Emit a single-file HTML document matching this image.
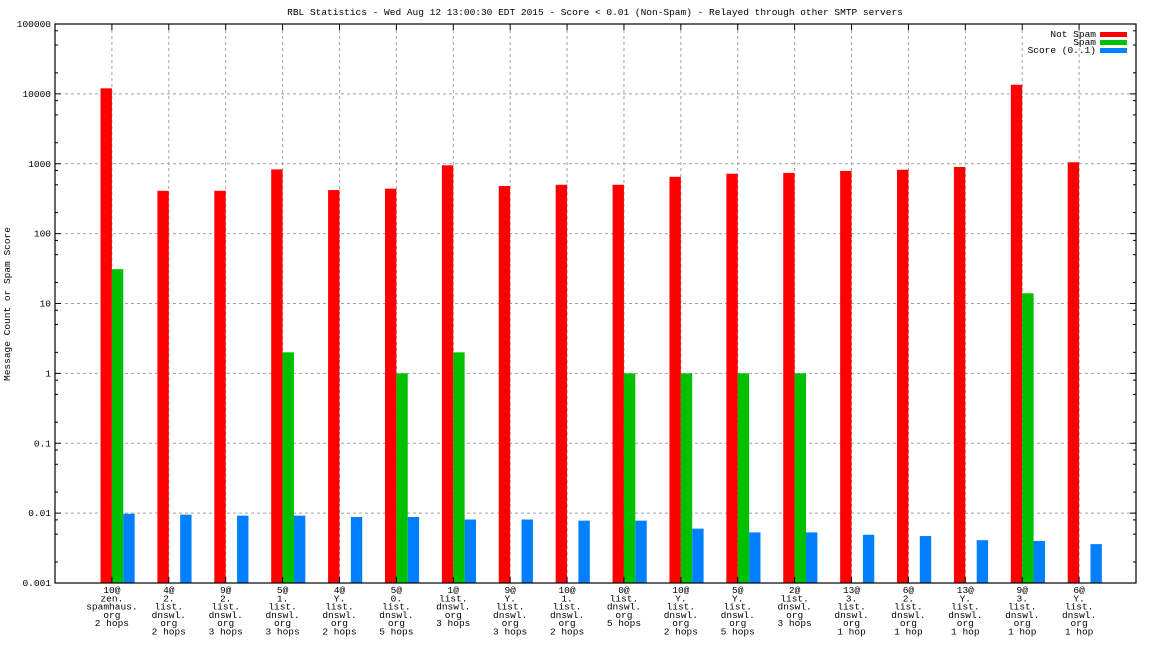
<!DOCTYPE html>
<html><head><meta charset="utf-8"><style>
body{margin:0;background:#fff}
svg text{font-family:"Liberation Mono",monospace;font-size:9.5px;fill:#000}
</style></head><body>
<svg id="c" width="1152" height="648" xmlns="http://www.w3.org/2000/svg">
<text x="595" y="15" text-anchor="middle">RBL Statistics - Wed Aug 12 13:00:30 EDT 2015 - Score &lt; 0.01 (Non-Spam) - Relayed through other SMTP servers</text>
<text transform="translate(10,304) rotate(-90)" text-anchor="middle">Message Count or Spam Score</text>
<g id="grid"></g><g id="bars"></g><g id="axes"></g>
<g>
<text x="1096" y="37" text-anchor="end">Not Spam</text><rect x="1100" y="32" width="27" height="5" fill="#ff0000"/>
<text x="1096" y="45" text-anchor="end">Spam</text><rect x="1100" y="40" width="27" height="5" fill="#00c000"/>
<text x="1096" y="53" text-anchor="end">Score (0..1)</text><rect x="1100" y="48" width="27" height="5" fill="#0080ff"/>
</g>
</svg>
<script>
const categories=[["10@","zen.","spamhaus.","org","2 hops"],["4@","2.","list.","dnswl.","org","2 hops"],["9@","2.","list.","dnswl.","org","3 hops"],["5@","1.","list.","dnswl.","org","3 hops"],["4@","Y.","list.","dnswl.","org","2 hops"],["5@","0.","list.","dnswl.","org","5 hops"],["1@","list.","dnswl.","org","3 hops"],["9@","Y.","list.","dnswl.","org","3 hops"],["10@","1.","list.","dnswl.","org","2 hops"],["0@","list.","dnswl.","org","5 hops"],["10@","Y.","list.","dnswl.","org","2 hops"],["5@","Y.","list.","dnswl.","org","5 hops"],["2@","list.","dnswl.","org","3 hops"],["13@","3.","list.","dnswl.","org","1 hop"],["6@","2.","list.","dnswl.","org","1 hop"],["13@","Y.","list.","dnswl.","org","1 hop"],["9@","3.","list.","dnswl.","org","1 hop"],["6@","Y.","list.","dnswl.","org","1 hop"]];
const notSpam=[12000,410,410,830,420,440,950,480,500,500,650,720,740,790,820,900,13500,1050];
const spam=[31,0,0,2,0,1,2,0,0,1,1,1,1,0,0,0,14,0];
const score=[0.0098,0.0095,0.0092,0.0092,0.0088,0.0088,0.0081,0.0081,0.0078,0.0078,0.006,0.0053,0.0053,0.0049,0.0047,0.0041,0.004,0.0036];
const yTicks=[0.001,0.01,0.1,1,10,100,1000,10000,100000];
const yTickLabels=["0.001","0.01","0.1","1","10","100","1000","10000","100000"];
const L=55,R=1136,T=24,B=583,NS="http://www.w3.org/2000/svg";
const y=v=>B-(Math.log10(v)+3)/8*(B-T);
const x=i=>L+(i+1)*(R-L)/19;
const bw=(R-L)/19*0.2;
function mk(p,t,a){const e=document.createElementNS(NS,t);for(const k in a)e.setAttribute(k,a[k]);document.getElementById(p).appendChild(e);return e;}
yTicks.forEach((v,j)=>{
 if(j>0&&j<yTicks.length-1){const g=mk('grid','line',{x1:65,x2:R,y1:y(v),y2:y(v),stroke:'#a0a0a0','stroke-dasharray':'3,3'});
 
 }
 const t=mk('axes','text',{x:L-4,y:y(v)+3,'text-anchor':'end'});t.textContent=yTickLabels[j];
 
 
 mk('axes','line',{x1:L,x2:L+6,y1:y(v),y2:y(v),stroke:'#000'});
 mk('axes','line',{x1:R,x2:R-6,y1:y(v),y2:y(v),stroke:'#000'});
 if(j<yTicks.length-1)[2,5,8].forEach(m=>{const yy=y(v*m);mk('axes','line',{x1:L,x2:L+3,y1:yy,y2:yy,stroke:'#000'});mk('axes','line',{x1:R,x2:R-3,y1:yy,y2:yy,stroke:'#000'});});
});
categories.forEach((c,i)=>{
 const cx=x(i);
 const g=mk('grid','line',{x1:cx,x2:cx,y1:T+6,y2:B,stroke:'#a0a0a0','stroke-dasharray':'3,3'});
 
 
 mk('axes','line',{x1:cx,x2:cx,y1:T,y2:T+6,stroke:'#000'});
 mk('axes','line',{x1:cx,x2:cx,y1:B,y2:B-6,stroke:'#000'});
 c.forEach((s,k)=>{const t=mk('axes','text',{x:cx,y:B+10+k*8.3,'text-anchor':'middle'});t.textContent=s;
 
 });
 [[notSpam,'#ff0000',-2,'bar-not-spam'],[spam,'#00c000',-1,'bar-spam'],[score,'#0080ff',0,'bar-score']].forEach(([arr,col,o,n])=>{
  const v=arr[i];if(!(v>0))return;
  const r=mk('bars','rect',{x:cx+(o+1)*bw-bw+ (o===-2?0:0),y:y(v),width:bw,height:B-y(v),fill:col});
  r.setAttribute('x',cx+o*bw+bw*0);
  
  
 });
});
// shift bars: red at cx-bw..cx, green cx..cx+bw, blue cx+bw..cx+2bw
document.querySelectorAll('#bars rect').forEach(r=>{r.setAttribute('x',parseFloat(r.getAttribute('x'))+bw);});
mk('axes','rect',{x:L,y:T,width:R-L,height:B-T,fill:'none',stroke:'#000','stroke-width':1.2});
</script>
</body></html>
